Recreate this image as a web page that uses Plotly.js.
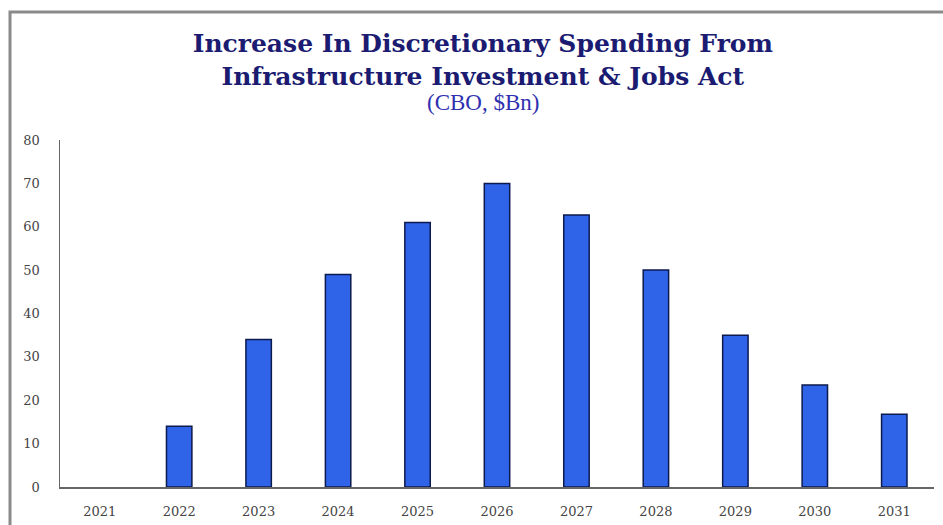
<!DOCTYPE html>
<html>
<head>
<meta charset="utf-8">
<script src="https://cdn.plot.ly/plotly-3.0.1.min.js"></script>
<style>
  html, body { margin: 0; padding: 0; background: #ffffff; }
  #chart { width: 943px; height: 525px; }
</style>
</head>
<body>
<div id="chart"></div>
<script>
// Data
const years = ["2021", "2022", "2023", "2024", "2025", "2026", "2027", "2028", "2029", "2030", "2031"];
const spending = [0, 14, 34, 49, 61, 70, 62.7, 50, 35, 23.5, 16.8];
const yTicks = [0, 10, 20, 30, 40, 50, 60, 70, 80];

const titleText = "Increase In Discretionary Spending From<br>Infrastructure Investment &amp; Jobs Act";
const subtitleText = "(CBO, $Bn)";

const trace = {
  type: "bar",
  x: years,
  y: spending,
  marker: {
    color: "#2f63e8",
    line: { color: "#0d1a4d", width: spending.map(v => (v > 0 ? 1.5 : 0)) }
  },
  hoverinfo: "x+y"
};

const layout = {
  width: 943,
  height: 525,
  paper_bgcolor: "#ffffff",
  plot_bgcolor: "#ffffff",
  margin: { l: 60, r: 9, t: 140, b: 38 },
  showlegend: false,
  bargap: 0.68,
  title: {
    text: titleText,
    font: { family: "DejaVu Serif, Liberation Serif, serif", size: 25, color: "#1b1b72", weight: "bold" },
    x: 0.512,
    xref: "container",
    xanchor: "center",
    y: 1 - 52 / 525,
    yref: "container",
    yanchor: "top"
  },
  annotations: [{
    text: subtitleText,
    xref: "paper", yref: "paper",
    x: (483 - 60) / 874, y: (487 - 102) / 347,
    xanchor: "center", yanchor: "middle",
    showarrow: false,
    font: { family: "Liberation Serif, DejaVu Serif, serif", size: 23, color: "#2f2fb0" }
  }],
  xaxis: {
    type: "category",
    tickvals: years,
    ticktext: years,
    showline: true,
    linecolor: "#666666",
    linewidth: 1.5,
    showgrid: false,
    zeroline: false,
    ticks: "",
    ticklabelstandoff: 12,
    tickfont: { family: "DejaVu Serif, Liberation Serif, serif", size: 13, color: "#444444" },
    fixedrange: true
  },
  yaxis: {
    range: [0, 80],
    tickvals: yTicks,
    ticktext: yTicks.map(String),
    showline: true,
    linecolor: "#666666",
    linewidth: 1.5,
    showgrid: false,
    zeroline: false,
    ticks: "",
    ticklabelstandoff: 16,
    tickfont: { family: "DejaVu Serif, Liberation Serif, serif", size: 13, color: "#444444" },
    fixedrange: true
  },
  shapes: [
    {
      type: "path",
      xref: "paper", yref: "paper",
      path: "M " + ((10 - 60) / 874) + " " + ((487 - 540) / 347) +
            " L " + ((10 - 60) / 874) + " " + ((487 - 12) / 347) +
            " L " + ((960 - 60) / 874) + " " + ((487 - 12) / 347),
      line: { color: "#8a8a8a", width: 3 },
      layer: "above"
    }
  ]
};

Plotly.newPlot("chart", [trace], layout, { displayModeBar: false, staticPlot: true });
</script>
</body>
</html>
